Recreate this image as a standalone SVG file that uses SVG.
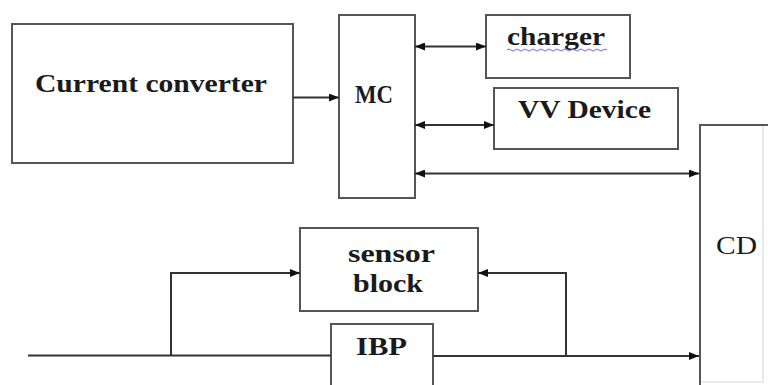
<svg xmlns="http://www.w3.org/2000/svg" width="768" height="385" viewBox="0 0 768 385">
<defs>
<marker id="ah" viewBox="0 0 10 8" refX="10" refY="4" markerWidth="10" markerHeight="8" markerUnits="userSpaceOnUse" orient="auto-start-reverse">
<path d="M0,0 L10,4 L0,8 Z" fill="#111"/>
</marker>
</defs>
<style>
.box{fill:#fff;stroke:#555;stroke-width:2}
.ln{fill:none;stroke:#333;stroke-width:2}
.t{font-family:"Liberation Serif","Times New Roman",serif;font-size:26px;font-weight:bold;fill:#1a1a1a}
.r{font-family:"Liberation Serif","Times New Roman",serif;font-size:26px;fill:#1a1a1a}
</style>
<rect width="768" height="385" fill="#fff"/>
<g id="current-converter">
<rect class="box" x="12" y="24" width="281" height="139"/>
<text class="t" x="35" y="92" textLength="232" lengthAdjust="spacingAndGlyphs">Current converter</text>
</g>
<g id="mc">
<rect class="box" x="339" y="15" width="76" height="183"/>
<text class="t" x="355" y="103" textLength="38" lengthAdjust="spacingAndGlyphs">MC</text>
</g>
<g id="charger">
<rect class="box" x="486" y="15" width="144" height="63"/>
<text class="t" x="507" y="45" textLength="98" lengthAdjust="spacingAndGlyphs">charger</text>
<path d="M507,50 q2,-2 4,0 t4,0 t4,0 t4,0 t4,0 t4,0 t4,0 t4,0 t4,0 t4,0 t4,0 t4,0 t4,0 t4,0 t4,0 t4,0 t4,0 t4,0 t4,0 t4,0 t4,0 t4,0 t4,0 t4,0 t4,0" fill="none" stroke="#6a6ae0" stroke-width="1"/>
</g>
<g id="vv-device">
<rect class="box" x="494" y="88" width="184" height="61"/>
<text class="t" x="518" y="118" textLength="133" lengthAdjust="spacingAndGlyphs">VV Device</text>
</g>
<g id="cd">
<rect x="700" y="125" width="63" height="257" fill="#fff"/>
<path d="M763,125 V382 H700" fill="none" stroke="#e4e4e4" stroke-width="1.5"/>
<path d="M700,385 V125 H768" fill="none" stroke="#555" stroke-width="2"/>
<text class="r" x="716" y="254" textLength="41" lengthAdjust="spacingAndGlyphs">CD</text>
</g>
<g id="sensor-block">
<rect class="box" x="300" y="228" width="178" height="83"/>
<text class="t" x="348" y="262" textLength="87" lengthAdjust="spacingAndGlyphs">sensor</text>
<text class="t" x="353" y="292" textLength="70" lengthAdjust="spacingAndGlyphs">block</text>
</g>
<g id="ibp">
<rect class="box" x="331" y="324" width="102" height="70"/>
<text class="t" x="356" y="355" textLength="51" lengthAdjust="spacingAndGlyphs">IBP</text>
</g>
<g id="connectors">
<line class="ln" x1="293" y1="97.5" x2="339" y2="97.5" marker-end="url(#ah)"/>
<line class="ln" x1="415" y1="46.5" x2="486" y2="46.5" marker-start="url(#ah)" marker-end="url(#ah)"/>
<line class="ln" x1="415" y1="125" x2="494" y2="125" marker-start="url(#ah)" marker-end="url(#ah)"/>
<line class="ln" x1="415" y1="173.5" x2="699" y2="173.5" marker-start="url(#ah)" marker-end="url(#ah)"/>
<line class="ln" x1="28" y1="355.5" x2="331" y2="355.5"/>
<polyline class="ln" points="171,355.5 171,273 300,273" marker-end="url(#ah)"/>
<line class="ln" x1="433" y1="356" x2="699" y2="356" marker-end="url(#ah)"/>
<polyline class="ln" points="566,356 566,273 478,273" marker-end="url(#ah)"/>
</g>
</svg>
